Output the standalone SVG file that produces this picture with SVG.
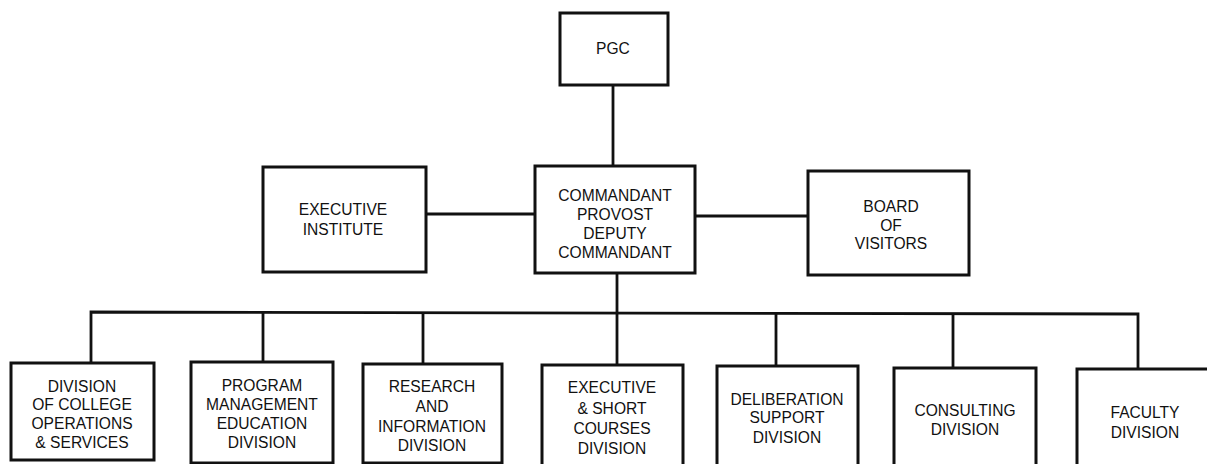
<svg xmlns="http://www.w3.org/2000/svg" width="1207" height="464" viewBox="0 0 1207 464">
<style>
.box{fill:#fff;stroke:#111;stroke-width:3}
.ln{fill:none;stroke:#111;stroke-width:2.8}
text{font-family:"Liberation Sans",Arial,sans-serif;font-size:15.6px;fill:#111;text-anchor:middle}
</style>
<rect width="1207" height="464" fill="#fff"/>
<g id="connectors">
<line class="ln" x1="613" y1="85" x2="613" y2="166"/>
<line class="ln" x1="426" y1="214" x2="535" y2="214"/>
<line class="ln" x1="695" y1="216" x2="808" y2="216"/>
<line class="ln" x1="617" y1="273" x2="617" y2="365"/>
<polyline class="ln" points="91,363 91,312 1138,314 1138,369"/>
<line class="ln" x1="263" y1="312" x2="263" y2="362"/>
<line class="ln" x1="423" y1="313" x2="423" y2="364"/>
<line class="ln" x1="776" y1="313" x2="776" y2="366"/>
<line class="ln" x1="953" y1="314" x2="953" y2="368"/>
</g>
<g id="pgc"><rect class="box" x="560" y="13" width="108" height="72"/><text x="613" y="54">PGC</text></g>
<g id="commandant"><rect class="box" x="535" y="166" width="160" height="107"/>
<text x="615" y="201">COMMANDANT</text><text x="615" y="220">PROVOST</text><text x="615" y="239">DEPUTY</text><text x="615" y="258">COMMANDANT</text></g>
<g id="exec-institute"><rect class="box" x="263" y="167" width="163" height="105"/>
<text x="343" y="215">EXECUTIVE</text><text x="343" y="235">INSTITUTE</text></g>
<g id="board"><rect class="box" x="808" y="171" width="161" height="104"/>
<text x="891" y="212">BOARD</text><text x="891" y="231">OF</text><text x="891" y="249">VISITORS</text></g>
<g id="div-college"><rect class="box" x="11" y="363" width="143" height="97"/>
<text x="82" y="392">DIVISION</text><text x="82" y="410">OF COLLEGE</text><text x="82" y="429">OPERATIONS</text><text x="82" y="448">&amp; SERVICES</text></g>
<g id="div-program"><rect class="box" x="191" y="362" width="142" height="101"/>
<text x="262" y="391">PROGRAM</text><text x="262" y="410">MANAGEMENT</text><text x="262" y="429">EDUCATION</text><text x="262" y="448">DIVISION</text></g>
<g id="div-research"><rect class="box" x="363" y="364" width="139" height="99"/>
<text x="432" y="392">RESEARCH</text><text x="432" y="412">AND</text><text x="432" y="432">INFORMATION</text><text x="432" y="451">DIVISION</text></g>
<g id="div-executive"><rect class="box" x="542" y="365" width="141" height="102"/>
<text x="612" y="393">EXECUTIVE</text><text x="612" y="414">&amp; SHORT</text><text x="612" y="434">COURSES</text><text x="612" y="454">DIVISION</text></g>
<g id="div-deliberation"><rect class="box" x="717" y="366" width="141" height="100"/>
<text x="787" y="405">DELIBERATION</text><text x="787" y="423">SUPPORT</text><text x="787" y="443">DIVISION</text></g>
<g id="div-consulting"><rect class="box" x="894" y="368" width="142" height="100"/>
<text x="965" y="416">CONSULTING</text><text x="965" y="435">DIVISION</text></g>
<g id="div-faculty"><rect class="box" x="1077" y="369" width="140" height="100"/>
<text x="1145" y="418">FACULTY</text><text x="1145" y="438">DIVISION</text></g>
</svg>
